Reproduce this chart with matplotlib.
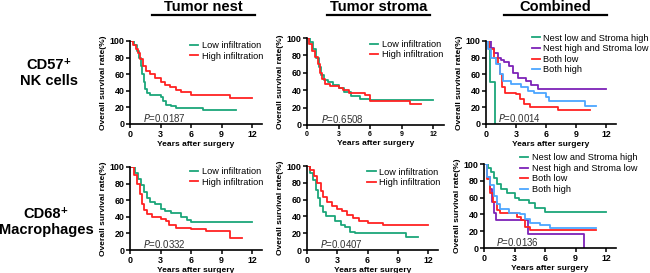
import matplotlib
matplotlib.use("Agg")
import matplotlib.pyplot as plt
from matplotlib.lines import Line2D

plt.rcParams["font.family"] = ["Liberation Sans", "DejaVu Sans"]

GREEN = "#1ba67a"
RED = "#ff2222"
PURPLE = "#7d22b8"
BLUE = "#4ca6ff"

YEAR_TICKS = [0, 3, 6, 9, 12]
PCT_TICKS = [0, 20, 40, 60, 80, 100]

col_titles = ["Tumor nest", "Tumor stroma", "Combined"]
row_titles = ["CD57\u207a\nNK cells", "CD68\u207a\nMacrophages"]
two_groups = ["Low infiltration", "High infiltration"]
four_groups = ["Nest low and Stroma high", "Nest high and Stroma low", "Both low", "Both high"]
p_values = [["0.0187", "0.6508", "0.0014"], ["0.0332", "0.0407", "0.0136"]]

# ---- CD57 NK cells ----
cd57_nest_low_t = [0, 0.4, 0.7, 0.9, 1.1, 1.2, 1.35, 1.5, 1.7, 2.0, 3.0, 3.2, 3.5, 4.0, 4.5, 7.2, 10.4]
cd57_nest_low_s = [100, 95, 88, 80, 70, 60, 50, 42, 37, 35, 32, 28, 23, 22, 19, 17, 17]
cd57_nest_high_t = [0, 0.3, 0.6, 0.8, 1.0, 1.3, 1.6, 2.0, 2.5, 3.0, 3.4, 3.9, 4.5, 5.0, 6.0, 9.8, 12.0]
cd57_nest_high_s = [100, 95, 90, 85, 78, 70, 64, 60, 55, 50, 47, 44, 41, 39, 35, 31, 31]

cd57_str_low_t = [0, 0.3, 0.6, 0.9, 1.1, 1.3, 1.6, 2.0, 2.5, 3.0, 3.5, 4.2, 5.0, 6.0, 12.0]
cd57_str_low_s = [100, 95, 87, 77, 67, 58, 52, 49, 46, 43, 38, 33, 30, 29, 29]
cd57_str_high_t = [0, 0.2, 0.5, 0.8, 1.0, 1.2, 1.4, 1.7, 2.2, 3.0, 3.4, 4.0, 5.5, 6.0, 9.8, 10.9]
cd57_str_high_s = [100, 93, 85, 78, 70, 60, 53, 47, 45, 43, 40, 37, 35, 28, 24, 24]

cd57_c_nlsh_t = [0, 0.4, 0.9, 0.9]
cd57_c_nlsh_s = [100, 50, 0, 0]
cd57_c_nhsl_t = [0, 0.5, 0.8, 1.2, 1.5, 1.8, 2.3, 2.7, 3.2, 4.0, 4.5, 5.2, 12.0]
cd57_c_nhsl_s = [100, 92, 85, 80, 77, 75, 70, 62, 55, 52, 47, 42, 42]
cd57_c_bl_t = [0, 0.3, 0.8, 1.2, 1.4, 1.6, 1.9, 3.0, 3.4, 3.8, 4.4, 7.2, 10.4]
cd57_c_bl_s = [100, 90, 80, 72, 60, 45, 37, 36, 30, 24, 20, 17, 17]
cd57_c_bh_t = [0, 0.2, 0.5, 1.0, 1.4, 1.7, 2.5, 3.5, 4.2, 4.8, 6.0, 6.3, 9.9, 11.0]
cd57_c_bh_s = [100, 90, 80, 72, 60, 52, 48, 44, 40, 37, 33, 28, 22, 22]

# ---- CD68 macrophages ----
cd68_nest_low_t = [0, 0.5, 0.8, 1.1, 1.4, 1.7, 2.0, 2.5, 3.0, 3.4, 4.0, 5.0, 5.6, 6.0, 12.0]
cd68_nest_low_s = [100, 93, 86, 78, 70, 63, 58, 55, 50, 47, 44, 40, 36, 34, 34]
cd68_nest_high_t = [0, 0.4, 0.7, 1.0, 1.2, 1.4, 1.7, 2.2, 3.0, 3.5, 3.8, 4.5, 6.0, 7.5, 9.8, 11.0]
cd68_nest_high_s = [100, 90, 80, 68, 55, 48, 43, 40, 37, 35, 30, 27, 25, 23, 15, 15]

cd68_str_low_t = [0, 0.3, 0.6, 0.9, 1.1, 1.3, 1.6, 1.9, 2.8, 3.4, 3.8, 4.3, 4.8, 9.8, 11.0]
cd68_str_low_s = [100, 92, 83, 72, 62, 52, 45, 40, 35, 30, 27, 22, 20, 15, 15]
cd68_str_high_t = [0, 0.3, 0.7, 1.0, 1.4, 1.6, 2.0, 2.5, 3.0, 3.5, 4.0, 4.6, 5.2, 6.0, 7.5, 12.0]
cd68_str_high_s = [100, 95, 88, 80, 70, 63, 57, 52, 49, 46, 42, 38, 35, 32, 30, 30]

cd68_c_nlsh_t = [0, 0.4, 0.7, 1.0, 1.3, 1.7, 2.3, 3.0, 3.4, 4.4, 5.0, 6.0, 12.0]
cd68_c_nlsh_s = [100, 95, 90, 83, 76, 70, 65, 60, 57, 53, 48, 43, 43]
cd68_c_nhsl_t = [0, 0.3, 0.6, 0.8, 1.0, 1.2, 4.3, 9.8, 9.8]
cd68_c_nhsl_s = [100, 85, 70, 55, 42, 33, 17, 0, 0]
cd68_c_bl_t = [0, 0.3, 0.6, 0.9, 1.3, 1.6, 3.2, 3.6, 4.0, 4.5, 11.0]
cd68_c_bl_s = [100, 82, 65, 55, 45, 42, 37, 33, 25, 21, 21]
cd68_c_bh_t = [0, 0.3, 0.6, 1.0, 1.3, 1.6, 2.5, 3.5, 4.0, 4.5, 5.5, 6.5, 11.0]
cd68_c_bh_s = [100, 85, 75, 62, 52, 46, 42, 40, 35, 30, 27, 24, 24]

W, H = 650, 273


def px_axes(fig, x0, ytop, x12, y0):
    # place axes from pixel positions of x=0 / x=12 and y=100 / y=0
    per_yr = (x12 - x0) / 12.0
    w = per_yr * 13.0
    return fig.add_axes([x0 / W, 1 - y0 / H, w / W, (y0 - ytop) / H])


def style(ax, small_x=False):
    ax.set_xlim(0, 13)
    ax.set_ylim(0, 100)
    for s in ("top", "right"):
        ax.spines[s].set_visible(False)
    for s in ("left", "bottom"):
        ax.spines[s].set_linewidth(1.2)
    ax.set_xticks(YEAR_TICKS)
    ax.set_yticks(PCT_TICKS)
    ax.tick_params(direction="out", length=3, width=1.1, pad=1)
    for lab in ax.get_xticklabels():
        lab.set_fontsize(5 if small_x else 6.4)
        lab.set_fontweight("bold")
    for lab in ax.get_yticklabels():
        lab.set_fontsize(6.4)
        lab.set_fontweight("bold")
    ax.set_ylabel("Overall survival rate(%)", fontsize=6, fontweight="bold", labelpad=2)
    ax.set_xlabel("Years after surgery", fontsize=6, fontweight="bold", labelpad=2)


def km(ax, t, s, color, label):
    ax.step(t, s, where="post", color=color, lw=1.3, label=label)


fig = plt.figure(figsize=(6.5, 2.73), dpi=100)

panels = [
    [(130, 41, 252, 124), (307, 38, 433, 125), (486, 41, 606, 124)],
    [(130, 167, 252, 250), (307, 166, 428, 250), (484, 164, 606, 248)],
]
leg_anchor = [
    [(0.455, 1.0), (0.46, 0.98), (0.35, 1.09)],
    [(0.455, 1.0), (0.46, 0.98), (0.27, 1.13)],
]

curves = [
    [
        [(cd57_nest_low_t, cd57_nest_low_s, GREEN), (cd57_nest_high_t, cd57_nest_high_s, RED)],
        [(cd57_str_low_t, cd57_str_low_s, GREEN), (cd57_str_high_t, cd57_str_high_s, RED)],
        [(cd57_c_nlsh_t, cd57_c_nlsh_s, GREEN), (cd57_c_nhsl_t, cd57_c_nhsl_s, PURPLE),
         (cd57_c_bl_t, cd57_c_bl_s, RED), (cd57_c_bh_t, cd57_c_bh_s, BLUE)],
    ],
    [
        [(cd68_nest_low_t, cd68_nest_low_s, GREEN), (cd68_nest_high_t, cd68_nest_high_s, RED)],
        [(cd68_str_low_t, cd68_str_low_s, GREEN), (cd68_str_high_t, cd68_str_high_s, RED)],
        [(cd68_c_nlsh_t, cd68_c_nlsh_s, GREEN), (cd68_c_nhsl_t, cd68_c_nhsl_s, PURPLE),
         (cd68_c_bl_t, cd68_c_bl_s, RED), (cd68_c_bh_t, cd68_c_bh_s, BLUE)],
    ],
]

for r in range(2):
    for c in range(3):
        ax = px_axes(fig, *panels[r][c])
        labels = four_groups if c == 2 else two_groups
        for (t, s, col), lab in zip(curves[r][c], labels):
            km(ax, t, s, col, lab)
        style(ax, small_x=(r == 0 and c == 1))
        handles = [Line2D([], [], color=col, lw=1.3) for (_, _, col) in curves[r][c]]
        ax.legend(handles, labels, loc="upper left", bbox_to_anchor=leg_anchor[r][c],
                  frameon=False, fontsize=6.6, handlelength=0.9,
                  handletextpad=0.4, labelspacing=0.18, borderpad=0, borderaxespad=0)
        ax.text(1.3 if c < 2 else 1.2, 7, "$\\it{P}$=" + p_values[r][c],
                fontsize=7, color="#333333", va="center")

# column titles with underline
title_x = [(152, 255), (327, 430), (504, 607)]
for (a, b), name in zip(title_x, col_titles):
    fig.text((a + b) / 2 / W, 1 - 7 / H, name, ha="center", va="center",
             fontsize=10.5, fontweight="bold")
    fig.add_artist(Line2D([a / W, b / W], [1 - 15 / H, 1 - 15 / H], color="black", lw=1.6))

# row titles
fig.text(49 / W, 1 - 73 / H, row_titles[0], ha="center", va="center",
         fontsize=10.5, fontweight="bold", linespacing=1.25)
fig.text(46 / W, 1 - 222 / H, row_titles[1], ha="center", va="center",
         fontsize=10.5, fontweight="bold", linespacing=1.25)

fig.savefig("out.png", dpi=100)
